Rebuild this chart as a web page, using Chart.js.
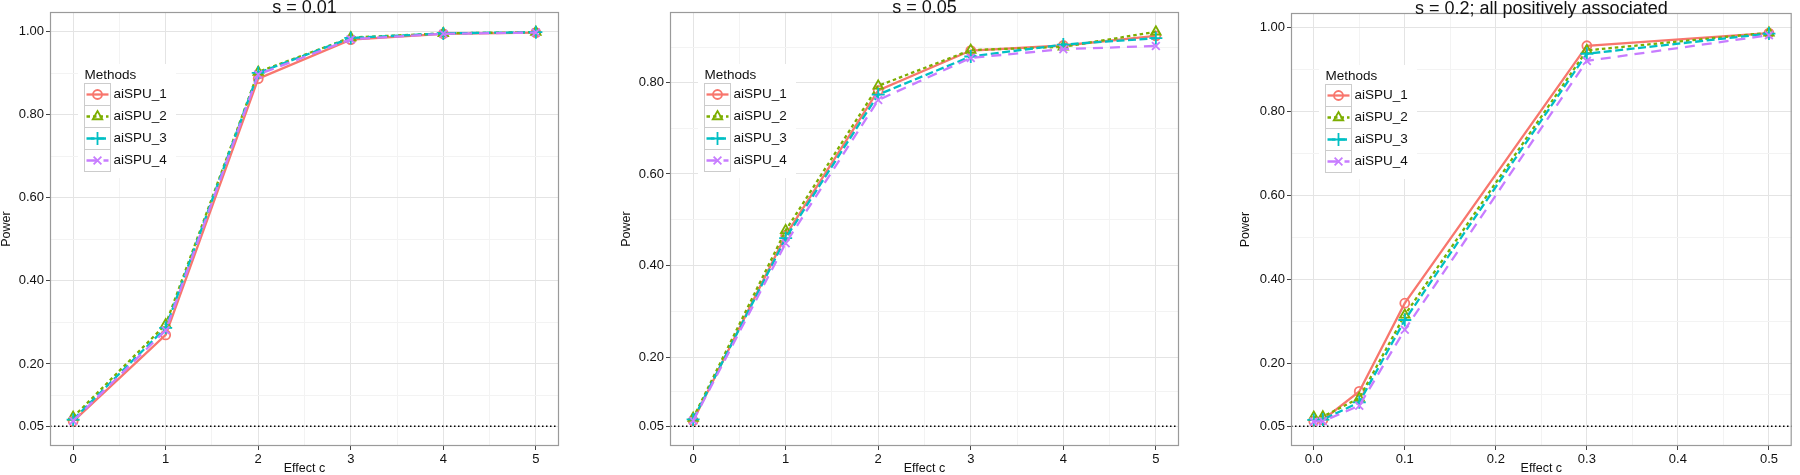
<!DOCTYPE html>
<html lang="en">
<head>
<meta charset="UTF-8">
<title>aiSPU power by effect size</title>
<script src="https://cdn.jsdelivr.net/npm/chart.js"></script>
<style>
  body { margin: 0; background: #fff; }
  .panel { position: absolute; top: 0; width: 600px; height: 475px; }
</style>
</head>
<body>
<div class="panel" style="left:0"><canvas id="c1"></canvas></div>
<div class="panel" style="left:600px"><canvas id="c2"></canvas></div>
<div class="panel" style="left:1200px"><canvas id="c3"></canvas></div>

<script>
// ---- data ----
const methods = ["aiSPU_1", "aiSPU_2", "aiSPU_3", "aiSPU_4"];

// s = 0.01
const effect1 = [0, 1, 2, 3, 4, 5];
const power1_spu1 = [0.062, 0.270, 0.887, 0.981, 0.995, 0.998];
const power1_spu2 = [0.072, 0.295, 0.903, 0.986, 0.996, 0.999];
const power1_spu3 = [0.066, 0.287, 0.901, 0.985, 0.996, 0.999];
const power1_spu4 = [0.063, 0.281, 0.897, 0.982, 0.995, 0.998];

// s = 0.05
const effect2 = [0, 1, 2, 3, 4, 5];
const power2_spu1 = [0.062, 0.466, 0.782, 0.869, 0.880, 0.901];
const power2_spu2 = [0.068, 0.477, 0.792, 0.870, 0.877, 0.910];
const power2_spu3 = [0.065, 0.460, 0.773, 0.856, 0.882, 0.896];
const power2_spu4 = [0.062, 0.449, 0.761, 0.853, 0.872, 0.879];

// s = 0.2; all positively associated
const effect3 = [0, 0.01, 0.05, 0.1, 0.3, 0.5];
const power3_spu1 = [0.062, 0.065, 0.133, 0.343, 0.956, 0.986];
const power3_spu2 = [0.072, 0.073, 0.117, 0.315, 0.945, 0.987];
const power3_spu3 = [0.065, 0.066, 0.107, 0.303, 0.937, 0.985];
const power3_spu4 = [0.061, 0.062, 0.099, 0.280, 0.920, 0.981];

// axis breaks
const yMajor = [0.05, 0.2, 0.4, 0.6, 0.8, 1.0];
const yMinor1 = [0.125, 0.3, 0.5, 0.7, 0.9];
const yMinor2 = [0.125, 0.3, 0.5, 0.7, 0.875];
const xMajorInt = [0, 1, 2, 3, 4, 5];
const xMinorInt = [0.5, 1.5, 2.5, 3.5, 4.5];
const xMajorSmall = [0, 0.1, 0.2, 0.3, 0.4, 0.5];
const xMinorSmall = [0.05, 0.15, 0.25, 0.35, 0.45];
const refLine = 0.05;

// ---- styling ----
const FONT = '"Liberation Sans", Arial, Helvetica, sans-serif';
const colors = ["#F8766D", "#7CAE00", "#00BFC4", "#C77CFF"];
const dashes = [[], [3.5, 3], [8, 3.5], [10, 7]];
const shapes = ["circle", "triangle", "cross", "crossRot"];
const radii = [4.5, 5.5, 6.5, 5.5];

function makeDatasets(xs, series) {
  return series.map((ys, i) => ({
    label: methods[i],
    data: xs.map((x, j) => ({ x: x, y: ys[j] })),
    borderColor: colors[i],
    borderWidth: 2.3,
    borderDash: dashes[i],
    pointStyle: shapes[i],
    pointRadius: radii[i],
    pointBorderWidth: 1.8,
    pointBorderColor: colors[i],
    pointBackgroundColor: "rgba(0,0,0,0)",
    fill: false,
    tension: 0,
    order: 3 - i
  }));
}

// border, reference line, legend box and title, drawn ggplot-style
const ggDecor = {
  id: "ggDecor",
  beforeDatasetsDraw(chart) {
    const { ctx, chartArea: a, scales } = chart;
    const yRef = scales.y.getPixelForValue(refLine);
    ctx.save();
    ctx.strokeStyle = "#000";
    ctx.lineWidth = 1.5;
    ctx.setLineDash([1.5, 2.5]);
    ctx.beginPath();
    ctx.moveTo(a.left, yRef);
    ctx.lineTo(a.right, yRef);
    ctx.stroke();
    ctx.restore();
  },
  afterDatasetsDraw(chart) {
    const { ctx, chartArea: a } = chart;
    ctx.save();
    ctx.strokeStyle = "#9a9a9a";
    ctx.lineWidth = 1.2;
    ctx.strokeRect(a.left + 0.5, a.top + 0.5, a.width - 1, a.height - 1);

    // legend
    ctx.fillStyle = "#fff";
    ctx.fillRect(a.left + 28, a.top + 52, 98, 114);
    ctx.font = "13.5px " + FONT;
    ctx.textBaseline = "middle";
    ctx.textAlign = "left";
    ctx.fillStyle = "#111";
    ctx.fillText("Methods", a.left + 34.5, a.top + 63);
    chart.data.datasets.forEach((ds, i) => {
      const bx = a.left + 34.5, cy = a.top + 82.5 + i * 22;
      ctx.setLineDash([]);
      ctx.strokeStyle = "#cccccc";
      ctx.lineWidth = 1;
      ctx.strokeRect(bx, cy - 11, 26, 22);
      ctx.strokeStyle = ds.borderColor;
      ctx.lineWidth = ds.borderWidth;
      ctx.setLineDash(ds.borderDash);
      ctx.beginPath();
      ctx.moveTo(bx + 2, cy);
      ctx.lineTo(bx + 24, cy);
      ctx.stroke();
      ctx.setLineDash([]);
      ctx.fillStyle = "rgba(0,0,0,0)";
      ctx.lineWidth = ds.pointBorderWidth;
      Chart.helpers.drawPoint(ctx, {
        pointStyle: ds.pointStyle, radius: ds.pointRadius,
        borderWidth: ds.pointBorderWidth, rotation: 0
      }, bx + 13, cy);
      ctx.fillStyle = "#111";
      ctx.fillText(ds.label, a.left + 63.5, cy);
    });
    ctx.restore();
  },
  afterDraw(chart, args, opts) {
    const { ctx, chartArea: a } = chart;
    ctx.save();
    ctx.font = "18px " + FONT;
    ctx.fillStyle = "#111";
    ctx.textAlign = "center";
    ctx.textBaseline = "alphabetic";
    ctx.fillText(opts.title, (a.left + a.right) / 2, a.top + 0.5);
    ctx.restore();
  }
};

function breakScale(major, minor, lo, hi, fmt, extra) {
  const majorSet = new Set(major);
  const all = major.concat(minor).filter(v => v >= lo && v <= hi).sort((a, b) => a - b);
  return Object.assign({
    type: "linear",
    min: lo,
    max: hi,
    afterBuildTicks: s => { s.ticks = all.map(v => ({ value: v })); },
    border: { display: false },
    grid: {
      color: c => (c.tick && majorSet.has(c.tick.value)) ? "#e4e4e4" : "#f3f3f3",
      tickColor: c => (c.tick && majorSet.has(c.tick.value)) ? "#444" : "rgba(0,0,0,0)",
      tickLength: 4,
      lineWidth: 1
    },
    ticks: {
      autoSkip: false,
      maxRotation: 0,
      padding: 2,
      color: "#111",
      font: { family: FONT, size: 13 },
      callback: v => majorSet.has(v) ? fmt(v) : ""
    }
  }, extra);
}

function makePanel(id, p) {
  new Chart(document.getElementById(id), {
    type: "line",
    data: { datasets: makeDatasets(p.xs, p.series) },
    plugins: [ggDecor],
    options: {
      responsive: true,
      maintainAspectRatio: false,
      animation: false,
      layout: { padding: p.pad },
      plugins: {
        legend: { display: false },
        tooltip: { enabled: false },
        ggDecor: { title: p.title }
      },
      scales: {
        x: breakScale(p.xMajor, p.xMinor, p.xMin, p.xMax, p.xFmt, {
          afterFit: s => { s.height = 29; },
          title: { display: true, text: "Effect c", color: "#111",
                   padding: 0, font: { family: FONT, size: 12.5, lineHeight: 1 } }
        }),
        y: breakScale(yMajor, p.yMinor, p.yMin, p.yMax, v => v.toFixed(2), {
          afterFit: s => { s.width = p.yWidth; },
          title: { display: true, text: "Power", color: "#111",
                   padding: 0, font: { family: FONT, size: 12.5, lineHeight: 1 } }
        })
      }
    }
  });
}

makePanel("c1", {
  title: "s = 0.01",
  xs: effect1,
  series: [power1_spu1, power1_spu2, power1_spu3, power1_spu4],
  xMajor: xMajorInt, xMinor: xMinorInt, xMin: -0.25, xMax: 5.25,
  xFmt: v => String(v),
  yMinor: yMinor1, yMin: 0.0025, yMax: 1.0475,
  yWidth: 50,
  pad: { left: 0, right: 41, top: 12, bottom: 0 }
});

makePanel("c2", {
  title: "s = 0.05",
  xs: effect2,
  series: [power2_spu1, power2_spu2, power2_spu3, power2_spu4],
  xMajor: xMajorInt, xMinor: xMinorInt, xMin: -0.25, xMax: 5.25,
  xFmt: v => String(v),
  yMinor: yMinor2, yMin: 0.007, yMax: 0.953,
  yWidth: 50,
  pad: { left: 20, right: 21, top: 12, bottom: 0 }
});

makePanel("c3", {
  title: "s = 0.2; all positively associated",
  xs: effect3,
  series: [power3_spu1, power3_spu2, power3_spu3, power3_spu4],
  xMajor: xMajorSmall, xMinor: xMinorSmall, xMin: -0.025, xMax: 0.525,
  xFmt: v => v.toFixed(1),
  yMinor: yMinor1, yMin: 0.003, yMax: 1.034,
  yWidth: 52,
  pad: { left: 39, right: 0, top: 13, bottom: 0 }
});
</script>
</body>
</html>
